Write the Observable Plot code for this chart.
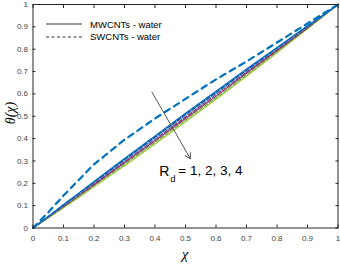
<!DOCTYPE html>
<html><head><meta charset="utf-8">
<script src="https://cdn.jsdelivr.net/npm/d3@7"></script>
<script src="https://cdn.jsdelivr.net/npm/@observablehq/plot@0.6"></script>
<style>
html,body{margin:0;padding:0;background:#fff;}
#wrap{position:relative;width:340px;height:264px;}
#legend{position:absolute;left:46px;top:18px;font:9.5px "Liberation Sans",Arial,sans-serif;color:#000;}
#legend div{display:flex;align-items:center;height:12.5px;}
#legend svg{margin-right:8px;}
</style></head>
<body><div id="wrap"><div id="chart"></div>
<div id="legend">
<div><svg width="36" height="4"><line x1="0" y1="2" x2="36" y2="2" stroke="#333" stroke-width="1"/></svg>MWCNTs - water</div>
<div><svg width="36" height="4"><line x1="0" y1="2" x2="36" y2="2" stroke="#333" stroke-width="1" stroke-dasharray="3,2.5"/></svg>SWCNTs - water</div>
</div></div>
<script>
const chi = [0,0.05,0.1,0.15,0.2,0.3,0.4,0.5,0.6,0.7,0.8,0.9,0.95,1];
const sw1 = [0,0.07,0.145,0.215,0.285,0.395,0.49,0.578,0.665,0.745,0.83,0.915,0.958,1];
const mw1 = [0,0.052,0.105,0.156,0.208,0.311,0.412,0.513,0.612,0.711,0.808,0.905,0.952,1];
const sw2 = [0,0.051,0.103,0.154,0.205,0.306,0.407,0.508,0.607,0.706,0.805,0.903,0.951,1];
const mw2 = [0,0.050,0.101,0.151,0.202,0.302,0.402,0.503,0.602,0.702,0.802,0.901,0.950,1];
const sw3 = [0,0.050,0.099,0.149,0.198,0.298,0.398,0.497,0.598,0.698,0.798,0.899,0.950,1];
const mw3 = [0,0.048,0.096,0.145,0.194,0.292,0.390,0.490,0.590,0.692,0.794,0.896,0.948,1];
const sw4 = [0,0.047,0.094,0.141,0.189,0.285,0.383,0.483,0.583,0.685,0.789,0.894,0.947,1];
const mw4 = [0,0.045,0.091,0.137,0.184,0.279,0.376,0.475,0.576,0.679,0.784,0.891,0.945,1];
const xTicks = [0,0.1,0.2,0.3,0.4,0.5,0.6,0.7,0.8,0.9,1];
const yTicks = [0,0.1,0.2,0.3,0.4,0.5,0.6,0.7,0.8,0.9,1];
const seriesList = [
  {name:"MW Rd=4", vals:mw4, color:"#9ACD32", dash:null, w:1.2},
  {name:"SW Rd=4", vals:sw4, color:"#77AC30", dash:"4,2", w:1.2},
  {name:"MW Rd=3", vals:mw3, color:"#7E2F8E", dash:null, w:1.2},
  {name:"SW Rd=3", vals:sw3, color:"#A2142F", dash:"4,2", w:1.2},
  {name:"MW Rd=2", vals:mw2, color:"#4DBEEE", dash:null, w:1.2},
  {name:"SW Rd=2", vals:sw2, color:"#1F2F8F", dash:"4,2", w:1.2},
  {name:"MW Rd=1", vals:mw1, color:"#0072BD", dash:null, w:1.2},
  {name:"SW Rd=1", vals:sw1, color:"#0072BD", dash:"6,5", w:2.2}
];
const arrowData = [{x1:0.39, y1:0.608, x2:0.516, y2:0.31}];
const label = [{x:0.414, y:0.253}];

const marks = [];
for (const s of seriesList) {
  const rows = chi.map((x,i)=>({x, y:s.vals[i]}));
  marks.push(Plot.line(rows, {x:"x", y:"y", stroke:s.color, strokeWidth:s.w, strokeDasharray:s.dash}));
}
marks.push(Plot.arrow(arrowData, {x1:"x1", y1:"y1", x2:"x2", y2:"y2", stroke:"#555", strokeWidth:1, headLength:9, bend:0}));
marks.push(Plot.text(label, {x:"x", y:"y", text:()=>"R", textAnchor:"start", fontSize:14, fill:"#000"}));
marks.push(Plot.text(label, {x:"x", y:"y", text:()=>"d", textAnchor:"start", dx:11, dy:7, fontSize:9.5, fill:"#000"}));
marks.push(Plot.text(label, {x:"x", y:"y", text:()=>"= 1, 2, 3, 4", textAnchor:"start", dx:19, dy:-1, fontSize:13.5, fill:"#000"}));
marks.push(Plot.frame({stroke:"#262626", strokeWidth:1}));
marks.push(Plot.axisX(xTicks, {anchor:"bottom", tickSize:0, tickPadding:7, tickFormat:d=>String(d), fontSize:8, fill:"#444"}));
marks.push(Plot.axisY(yTicks, {anchor:"left", tickSize:0, tickPadding:5, tickFormat:d=>String(d), fontSize:8, fill:"#444"}));
marks.push(Plot.axisX(xTicks, {anchor:"bottom", tickSize:-3, tickFormat:()=>"", stroke:"#262626"}));
marks.push(Plot.axisX(xTicks, {anchor:"top", tickSize:-3, tickFormat:()=>"", stroke:"#262626"}));
marks.push(Plot.axisY(yTicks, {anchor:"left", tickSize:-3, tickFormat:()=>"", stroke:"#262626"}));
marks.push(Plot.axisY(yTicks, {anchor:"right", tickSize:-3, tickFormat:()=>"", stroke:"#262626"}));

const chart = Plot.plot({
  width:340, height:264,
  marginLeft:32.5, marginRight:2.5, marginTop:4, marginBottom:36.5,
  style:{fontFamily:"'Liberation Sans', Arial, sans-serif", background:"#fff"},
  x:{domain:[0,1], label:null},
  y:{domain:[0,1], label:null},
  marks
});
const svg = d3.select(chart);
svg.append("text").attr("x",185).attr("y",259).attr("text-anchor","middle")
  .attr("font-family","'Liberation Serif', serif").attr("font-style","italic").attr("font-size",15).text("χ");
svg.append("text").attr("transform","translate(15,113) rotate(-90)").attr("text-anchor","middle")
  .attr("font-family","'Liberation Serif', serif").attr("font-style","italic").attr("font-size",14).text("θ(χ)");
document.getElementById("chart").appendChild(chart);
</script></body></html>
